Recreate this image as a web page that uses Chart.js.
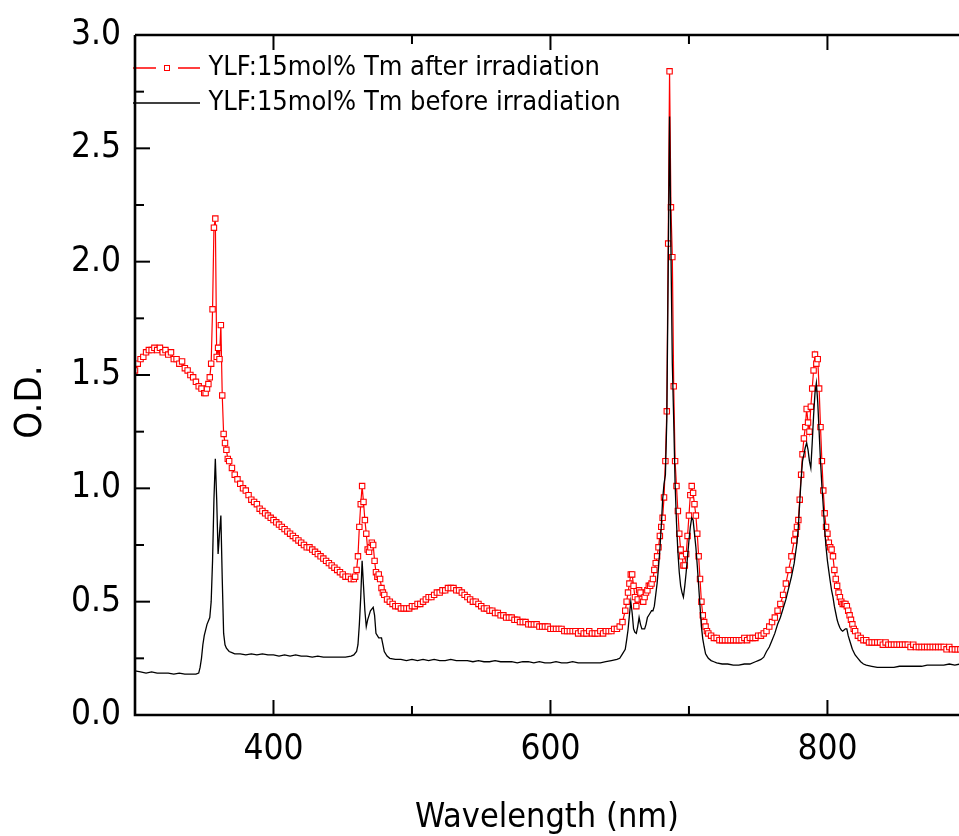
<!DOCTYPE html>
<html>
<head>
<meta charset="utf-8">
<script src="https://cdn.jsdelivr.net/npm/chart.js@4.4.1/dist/chart.umd.min.js"></script>
<style>
html,body{margin:0;padding:0;background:#fff;overflow:hidden}
#wrap{position:relative;width:959px;height:836px;overflow:hidden}
</style>
</head>
<body>
<div id="wrap"><canvas id="c" width="959" height="836"></canvas></div>
<script>
// ---- data (wavelength nm, optical density) ----
const seriesNames = ['YLF:15mol% Tm after irradiation', 'YLF:15mol% Tm before irradiation'];
const xTitle = 'Wavelength (nm)';
const yTitle = 'O.D.';
const xTickValues = [300, 400, 500, 600, 700, 800];
const xTickLabels = ['400', '600', '800'];
const yTickValues = [0, 0.25, 0.5, 0.75, 1, 1.25, 1.5, 1.75, 2, 2.25, 2.5, 2.75, 3];
const yTickLabels = ['0.0', '0.5', '1.0', '1.5', '2.0', '2.5', '3.0'];

const afterIrradiation = [
[300,1.52],[302,1.55],[304,1.57],[306,1.58],[308,1.60],[310,1.61],[312,1.61],[314,1.62],[316,1.61],[318,1.62],
[320,1.60],[322,1.61],[324,1.59],[326,1.60],[328,1.57],[330,1.57],[332,1.55],[334,1.56],[336,1.53],[338,1.52],
[340,1.50],[342,1.49],[344,1.47],[346,1.45],[348,1.44],[350,1.42],[351,1.42],[352,1.44],[353,1.46],[354,1.49],
[355,1.55],[356,1.79],[357,2.15],[358,2.19],[359,1.58],[360,1.62],[361,1.57],[362,1.72],[363,1.41],[364,1.24],
[365,1.20],[366,1.17],[367,1.13],[368,1.12],[370,1.09],[372,1.06],[374,1.04],[376,1.02],[378,1.00],[380,0.99],
[382,0.97],[384,0.95],[386,0.94],[388,0.93],[390,0.91],[392,0.90],[394,0.89],[396,0.88],[398,0.87],[400,0.86],
[402,0.85],[404,0.84],[406,0.83],[408,0.82],[410,0.81],[412,0.80],[414,0.79],[416,0.78],[418,0.77],[420,0.76],
[422,0.75],[424,0.74],[426,0.74],[428,0.73],[430,0.72],[432,0.71],[434,0.70],[436,0.69],[438,0.68],[440,0.67],
[442,0.66],[444,0.65],[446,0.64],[448,0.63],[450,0.62],[452,0.61],[454,0.61],[456,0.60],[458,0.60],[459,0.61],
[460,0.64],[461,0.70],[462,0.83],[463,0.93],[464,1.01],[465,0.94],[466,0.86],[467,0.80],[468,0.73],[469,0.72],
[470,0.74],[471,0.76],[472,0.75],[473,0.68],[474,0.63],[475,0.61],[476,0.62],[477,0.60],[478,0.56],[479,0.54],
[480,0.53],[482,0.51],[484,0.50],[486,0.49],[488,0.48],[490,0.48],[492,0.47],[494,0.47],[496,0.47],[498,0.47],
[500,0.48],[502,0.48],[504,0.49],[506,0.49],[508,0.50],[510,0.51],[512,0.52],[514,0.52],[516,0.53],[518,0.54],
[520,0.54],[522,0.55],[524,0.55],[526,0.56],[528,0.56],[530,0.56],[532,0.55],[534,0.55],[536,0.54],[538,0.53],
[540,0.52],[542,0.51],[544,0.50],[546,0.50],[548,0.49],[550,0.48],[552,0.47],[554,0.47],[556,0.46],[558,0.46],
[560,0.45],[562,0.45],[564,0.44],[566,0.44],[568,0.43],[570,0.43],[572,0.43],[574,0.42],[576,0.42],[578,0.41],
[580,0.41],[582,0.41],[584,0.40],[586,0.40],[588,0.40],[590,0.40],[592,0.39],[594,0.39],[596,0.39],[598,0.39],
[600,0.38],[602,0.38],[604,0.38],[606,0.38],[608,0.38],[610,0.37],[612,0.37],[614,0.37],[616,0.37],[618,0.37],
[620,0.36],[622,0.37],[624,0.36],[626,0.36],[628,0.37],[630,0.36],[632,0.36],[634,0.36],[636,0.37],[638,0.36],
[640,0.37],[642,0.37],[644,0.37],[646,0.38],[648,0.38],[650,0.39],[652,0.41],[654,0.46],[655,0.50],[656,0.54],
[657,0.58],[658,0.62],[659,0.62],[660,0.57],[661,0.52],[662,0.48],[663,0.51],[664,0.55],[665,0.54],[666,0.51],
[667,0.50],[668,0.52],[669,0.54],[670,0.55],[671,0.57],[672,0.57],[673,0.58],[674,0.60],[675,0.64],[676,0.67],
[677,0.70],[678,0.74],[679,0.79],[680,0.83],[681,0.87],[682,0.96],[683,1.12],[684,1.34],[685,2.08],[686,2.84],
[687,2.24],[688,2.02],[689,1.45],[690,1.12],[691,1.01],[692,0.90],[693,0.80],[694,0.73],[695,0.70],[696,0.66],
[697,0.66],[698,0.71],[699,0.79],[700,0.88],[701,0.97],[702,1.01],[703,0.98],[704,0.93],[705,0.88],[706,0.80],
[707,0.70],[708,0.60],[709,0.50],[710,0.44],[711,0.41],[712,0.39],[713,0.37],[714,0.36],[716,0.35],[718,0.34],
[720,0.34],[722,0.33],[724,0.33],[726,0.33],[728,0.33],[730,0.33],[732,0.33],[734,0.33],[736,0.33],[738,0.33],
[740,0.34],[742,0.33],[744,0.34],[746,0.34],[748,0.34],[750,0.35],[752,0.35],[754,0.36],[756,0.37],[758,0.39],
[760,0.41],[762,0.43],[764,0.46],[766,0.49],[768,0.53],[770,0.58],[772,0.64],[774,0.70],[776,0.77],[777,0.80],
[778,0.83],[779,0.86],[780,0.95],[781,1.06],[782,1.15],[783,1.22],[784,1.27],[785,1.35],[786,1.29],[787,1.25],
[788,1.36],[789,1.44],[790,1.52],[791,1.59],[792,1.55],[793,1.57],[794,1.44],[795,1.27],[796,1.12],[797,0.99],
[798,0.89],[799,0.83],[800,0.80],[801,0.76],[802,0.74],[803,0.73],[804,0.70],[805,0.64],[806,0.60],[807,0.57],
[808,0.54],[809,0.52],[810,0.50],[811,0.49],[812,0.49],[813,0.49],[814,0.48],[815,0.46],[816,0.44],[817,0.42],
[818,0.40],[819,0.38],[820,0.37],[822,0.35],[824,0.34],[826,0.33],[828,0.33],[830,0.32],[832,0.32],[834,0.32],
[836,0.32],[838,0.32],[840,0.31],[842,0.32],[844,0.31],[846,0.31],[848,0.31],[850,0.31],[852,0.31],[854,0.31],
[856,0.31],[858,0.31],[860,0.30],[862,0.31],[864,0.30],[866,0.30],[868,0.30],[870,0.30],[872,0.30],[874,0.30],
[876,0.30],[878,0.30],[880,0.30],[882,0.30],[884,0.30],[886,0.29],[888,0.30],[890,0.29],[892,0.29],[894,0.29],[896,0.29]
];

const beforeIrradiation = [
[300,0.195],[304,0.19],[308,0.185],[312,0.19],[316,0.185],[320,0.185],[324,0.185],[328,0.18],[332,0.185],[336,0.18],
[340,0.18],[344,0.18],[346,0.185],[347,0.21],[348,0.25],[349,0.31],[350,0.35],[352,0.40],[354,0.43],[355,0.50],
[356,0.68],[357,0.95],[358,1.13],[359,0.95],[360,0.71],[361,0.80],[362,0.88],[363,0.60],[364,0.36],[365,0.31],
[366,0.295],[368,0.28],[370,0.275],[372,0.27],[376,0.27],[380,0.265],[384,0.27],[388,0.265],[392,0.27],[396,0.265],
[400,0.265],[404,0.26],[408,0.265],[412,0.26],[416,0.265],[420,0.26],[424,0.26],[428,0.255],[432,0.26],[436,0.255],
[440,0.255],[444,0.255],[448,0.255],[452,0.255],[456,0.26],[458,0.265],[460,0.28],[461,0.31],[462,0.40],[463,0.52],
[464,0.68],[465,0.57],[466,0.46],[467,0.39],[468,0.42],[470,0.46],[472,0.475],[473,0.44],[474,0.36],[476,0.34],
[478,0.34],[479,0.31],[480,0.28],[482,0.26],[484,0.25],[488,0.245],[492,0.245],[496,0.24],[500,0.245],[504,0.24],
[508,0.245],[512,0.24],[516,0.245],[520,0.24],[524,0.24],[528,0.245],[532,0.24],[536,0.24],[540,0.24],[544,0.235],
[548,0.24],[552,0.235],[556,0.235],[560,0.24],[564,0.235],[568,0.235],[572,0.235],[576,0.23],[580,0.235],[584,0.235],
[588,0.23],[592,0.235],[596,0.23],[600,0.23],[604,0.235],[608,0.23],[612,0.23],[616,0.235],[620,0.23],[624,0.23],
[628,0.23],[632,0.23],[636,0.23],[640,0.235],[644,0.24],[648,0.245],[650,0.25],[652,0.27],[654,0.29],[655,0.33],
[656,0.375],[657,0.44],[658,0.50],[659,0.45],[660,0.38],[661,0.365],[662,0.36],[663,0.39],[664,0.43],[665,0.40],
[666,0.38],[667,0.38],[668,0.38],[669,0.40],[670,0.43],[671,0.44],[672,0.45],[673,0.46],[674,0.46],[675,0.48],
[676,0.53],[677,0.58],[678,0.65],[679,0.73],[680,0.83],[681,0.95],[682,1.02],[683,1.06],[684,1.30],[685,1.95],
[686,2.64],[687,2.05],[688,1.55],[689,1.30],[690,1.02],[691,0.85],[692,0.72],[693,0.63],[694,0.57],[695,0.54],
[696,0.52],[697,0.57],[698,0.63],[699,0.70],[700,0.77],[701,0.83],[702,0.87],[703,0.86],[704,0.80],[705,0.74],
[706,0.66],[707,0.57],[708,0.48],[709,0.39],[710,0.335],[711,0.30],[712,0.27],[713,0.26],[714,0.25],[716,0.24],
[718,0.235],[720,0.23],[724,0.225],[728,0.225],[732,0.22],[736,0.22],[740,0.225],[744,0.225],[748,0.235],[750,0.24],
[752,0.245],[754,0.255],[756,0.28],[758,0.30],[760,0.33],[762,0.36],[764,0.40],[766,0.43],[768,0.47],[770,0.51],
[772,0.56],[774,0.61],[776,0.67],[778,0.76],[779,0.83],[780,0.94],[781,1.04],[782,1.12],[783,1.15],[784,1.18],
[785,1.20],[786,1.17],[787,1.12],[788,1.09],[789,1.20],[790,1.32],[791,1.42],[792,1.465],[793,1.38],[794,1.25],
[795,1.12],[796,1.01],[797,0.92],[798,0.82],[799,0.74],[800,0.68],[801,0.635],[802,0.59],[803,0.55],[804,0.52],
[805,0.48],[806,0.45],[807,0.42],[808,0.40],[809,0.385],[810,0.375],[811,0.37],[812,0.375],[813,0.38],[814,0.38],
[815,0.35],[816,0.33],[817,0.31],[818,0.29],[820,0.265],[822,0.25],[824,0.235],[826,0.225],[828,0.22],[832,0.215],
[836,0.21],[840,0.21],[844,0.21],[848,0.21],[852,0.215],[856,0.215],[860,0.215],[864,0.215],[868,0.215],[872,0.22],
[876,0.22],[880,0.22],[884,0.22],[888,0.225],[892,0.22],[896,0.225]
];

// ---- styling ----
const FONT = "'DejaVu Sans Condensed', 'DejaVu Sans', sans-serif";
const RED = '#ff0000';

function legendGlyph(kind) {
  const c = document.createElement('canvas');
  c.width = 72; c.height = 12;
  const g = c.getContext('2d');
  if (kind === 'after') {
    g.strokeStyle = RED; g.lineWidth = 1.3;
    g.beginPath(); g.moveTo(5, 6); g.lineTo(28, 6); g.moveTo(50, 6); g.lineTo(72, 6); g.stroke();
    g.fillStyle = '#fff'; g.fillRect(36.5, 3.5, 5, 5);
    g.lineWidth = 1; g.strokeRect(36.5, 3.5, 5, 5);
  } else {
    g.strokeStyle = '#000'; g.lineWidth = 1.3;
    g.beginPath(); g.moveTo(5, 6); g.lineTo(72, 6); g.stroke();
  }
  return c;
}
const glyphs = [legendGlyph('after'), legendGlyph('before')];

const framePlugin = {
  id: 'frame',
  afterLayout(chart) {
    const lg = chart.legend;
    if (lg) { lg.left = chart.chartArea.left - 10; lg.top = chart.chartArea.top + 11.5; }
  },
  afterDatasetsDraw(chart) {
    const {ctx, chartArea: a, scales: {x, y}} = chart;
    ctx.save();
    ctx.strokeStyle = '#000';
    ctx.lineWidth = 2;
    yTickValues.forEach(v => {
      const py = y.getPixelForValue(v);
      const len = yTickLabels.includes(v.toFixed(1)) && (v * 2) % 1 === 0 ? 15 : 9;
      ctx.beginPath(); ctx.moveTo(a.left, py); ctx.lineTo(a.left + len, py); ctx.stroke();
    });
    xTickValues.forEach(v => {
      const px = x.getPixelForValue(v);
      const len = xTickLabels.includes(String(v)) ? 15 : 9;
      ctx.beginPath();
      ctx.moveTo(px, a.bottom); ctx.lineTo(px, a.bottom - len);
      ctx.moveTo(px, a.top); ctx.lineTo(px, a.top + len);
      ctx.stroke();
    });
    ctx.lineWidth = 2.6;
    ctx.beginPath();
    ctx.moveTo(a.left, a.top); ctx.lineTo(a.left, a.bottom); ctx.lineTo(a.right, a.bottom);
    ctx.moveTo(a.left, a.top); ctx.lineTo(a.right, a.top);
    ctx.stroke();
    ctx.restore();
  }
};

new Chart(document.getElementById('c'), {
  type: 'line',
  data: {
    datasets: [
      {
        label: seriesNames[0],
        data: afterIrradiation.map(p => ({x: p[0], y: p[1]})),
        borderColor: RED,
        borderWidth: 1.2,
        pointStyle: 'rect',
        pointRadius: 3.8,
        pointHoverRadius: 0,
        pointBorderWidth: 1.1,
        pointBorderColor: RED,
        pointBackgroundColor: '#ffffff',
        tension: 0,
        order: 1
      },
      {
        label: seriesNames[1],
        data: beforeIrradiation.map(p => ({x: p[0], y: p[1]})),
        borderColor: '#000000',
        borderWidth: 1.3,
        pointRadius: 0,
        pointHoverRadius: 0,
        tension: 0,
        order: 0
      }
    ]
  },
  options: {
    responsive: false,
    animation: false,
    devicePixelRatio: 1,
    events: [],
    layout: {autoPadding: false, padding: {left: 0, top: 35, right: 0, bottom: 0}},
    plugins: {
      tooltip: {enabled: false},
      legend: {
        position: 'chartArea',
        align: 'start',
        labels: {
          usePointStyle: true,
          pointStyleWidth: 62,
          boxHeight: 27,
          padding: 8,
          color: '#000',
          font: {family: FONT, size: 27},
          generateLabels(chart) {
            return chart.data.datasets.map((ds, i) => ({
              text: ds.label,
              datasetIndex: i,
              pointStyle: glyphs[i],
              fillStyle: 'transparent',
              strokeStyle: 'transparent',
              lineWidth: 0,
              fontColor: '#000',
              hidden: false
            }));
          }
        }
      }
    },
    scales: {
      x: {
        type: 'linear',
        min: 300,
        max: 895,
        afterBuildTicks(s) { s.ticks = xTickValues.map(v => ({value: v})); },
        afterFit(s) { s.height = 121; },
        grid: {display: false, drawTicks: true, tickLength: 14},
        border: {display: false},
        ticks: {
          autoSkip: false,
          maxRotation: 0,
          padding: 0,
          color: '#000',
          font: {family: FONT, size: 35},
          callback(v) { const s = String(Math.round(v)); return xTickLabels.includes(s) ? s : ''; }
        },
        title: {
          display: true, text: xTitle, color: '#000',
          font: {family: FONT, size: 34, lineHeight: 1},
          padding: {top: 0, bottom: 1}
        }
      },
      y: {
        type: 'linear',
        min: 0,
        max: 3,
        afterBuildTicks(s) { s.ticks = yTickValues.map(v => ({value: v})); },
        afterFit(s) { s.width = 135; },
        grid: {display: false, drawTicks: true, tickLength: 14},
        border: {display: false},
        ticks: {
          autoSkip: false,
          padding: 0,
          color: '#000',
          font: {family: FONT, size: 35},
          callback(v) { const s = Number(v).toFixed(1); return ((v * 2) % 1 === 0 && yTickLabels.includes(s)) ? s : ''; }
        },
        title: {
          display: true, text: yTitle + '     ', color: '#000',
          font: {family: FONT, size: 38, lineHeight: 1},
          padding: {top: 12, bottom: 0}
        }
      }
    }
  },
  plugins: [framePlugin]
});
</script>
</body>
</html>
